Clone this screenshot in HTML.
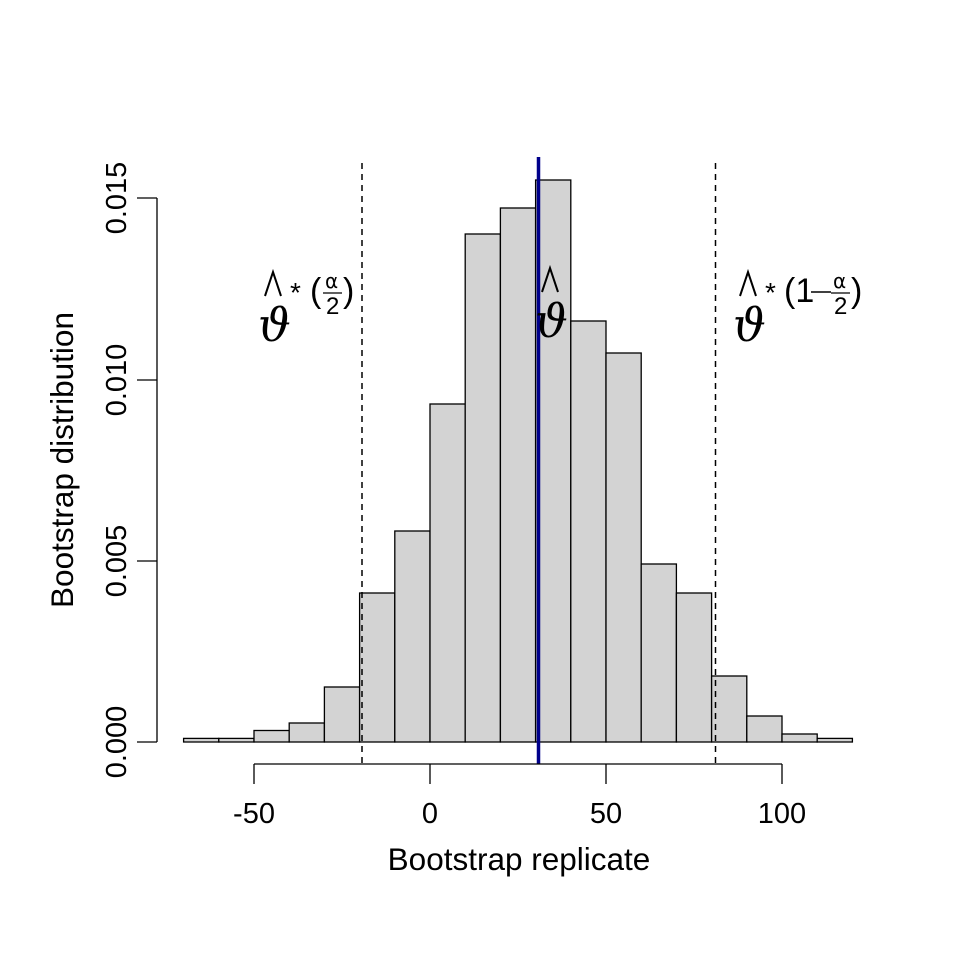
<!DOCTYPE html>
<html><head><style>body{margin:0;background:#fff}svg{display:block}</style></head>
<body>
<svg width="960" height="960" xmlns="http://www.w3.org/2000/svg" font-family="Liberation Sans, sans-serif">
<g fill="#d3d3d3" stroke="#000" stroke-width="1.3">
<rect x="183.6" y="738.4" width="35.2" height="3.6"/>
<rect x="218.8" y="738.4" width="35.2" height="3.6"/>
<rect x="254" y="730.5" width="35.2" height="11.5"/>
<rect x="289.2" y="723" width="35.2" height="19"/>
<rect x="324.4" y="687" width="35.2" height="55"/>
<rect x="359.6" y="593" width="35.2" height="149"/>
<rect x="394.8" y="531" width="35.2" height="211"/>
<rect x="430" y="404" width="35.2" height="338"/>
<rect x="465.2" y="234" width="35.2" height="508"/>
<rect x="500.4" y="208" width="35.2" height="534"/>
<rect x="535.6" y="180" width="35.2" height="562"/>
<rect x="570.8" y="321" width="35.2" height="421"/>
<rect x="606" y="353" width="35.2" height="389"/>
<rect x="641.2" y="564" width="35.2" height="178"/>
<rect x="676.4" y="593" width="35.2" height="149"/>
<rect x="711.6" y="676" width="35.2" height="66"/>
<rect x="746.8" y="716" width="35.2" height="26"/>
<rect x="782" y="734" width="35.2" height="8"/>
<rect x="817.2" y="738.4" width="35.2" height="3.6"/>
</g>
<g stroke="#000" stroke-width="1.5" stroke-dasharray="6,5">
<line x1="362" y1="163" x2="362" y2="764"/>
<line x1="715.5" y1="163" x2="715.5" y2="764"/>
</g>
<line x1="538.5" y1="157" x2="538.5" y2="764" stroke="#00008b" stroke-width="3.5"/>
<g stroke="#000" stroke-width="1.3" fill="none">
<line x1="157" y1="198" x2="157" y2="742"/>
<line x1="137" y1="198" x2="157" y2="198"/>
<line x1="137" y1="380" x2="157" y2="380"/>
<line x1="137" y1="561" x2="157" y2="561"/>
<line x1="137" y1="742" x2="157" y2="742"/>
<line x1="254" y1="764" x2="782" y2="764"/>
<line x1="254" y1="764" x2="254" y2="784"/>
<line x1="430" y1="764" x2="430" y2="784"/>
<line x1="606" y1="764" x2="606" y2="784"/>
<line x1="782" y1="764" x2="782" y2="784"/>
</g>
<g font-size="29" text-anchor="middle">
<text x="254" y="823">-50</text>
<text x="430" y="823">0</text>
<text x="606" y="823">50</text>
<text x="782" y="823">100</text>
<text x="519" y="870" font-size="31.5">Bootstrap replicate</text>
<text transform="translate(126,198) rotate(-90)">0.015</text>
<text transform="translate(126,380) rotate(-90)">0.010</text>
<text transform="translate(126,561) rotate(-90)">0.005</text>
<text transform="translate(126,742) rotate(-90)">0.000</text>
<text transform="translate(73,460) rotate(-90)" font-size="31.5">Bootstrap distribution</text>
</g>
<g font-family="DejaVu Serif, serif" font-size="46" font-style="italic">
<text x="258" y="341">ϑ</text>
<text x="535" y="337">ϑ</text>
<text x="733" y="341">ϑ</text>
</g>
<g stroke="#000" stroke-width="2" fill="none">
<polyline points="265,296 273,272 281,296"/>
<polyline points="542,292 550,268 558,292"/>
<polyline points="740,296 748,272 756,296"/>
</g>
<g font-size="28">
<text x="290" y="302">*</text>
<text x="765" y="302">*</text>
</g>
<g>
<text x="310" y="302" font-size="34">(</text>
<text x="343" y="302" font-size="34">)</text>
<text x="325" y="288" font-size="20" font-family="DejaVu Sans, sans-serif">α</text>
<line x1="323" y1="293" x2="342" y2="293" stroke="#000" stroke-width="1.3"/>
<text x="326" y="314" font-size="24">2</text>
<text x="784" y="302" font-size="34">(1</text>
<line x1="811" y1="292" x2="831" y2="292" stroke="#000" stroke-width="1.6"/>
<text x="833" y="288" font-size="20" font-family="DejaVu Sans, sans-serif">α</text>
<line x1="831" y1="293" x2="850" y2="293" stroke="#000" stroke-width="1.3"/>
<text x="834" y="314" font-size="24">2</text>
<text x="851" y="302" font-size="34">)</text>
</g>
</svg>
</body></html>
